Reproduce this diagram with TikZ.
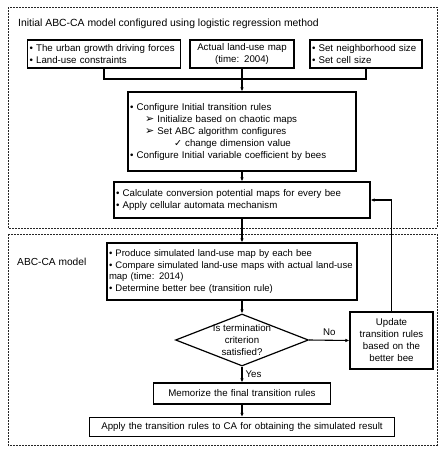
\documentclass[tikz,border=0pt]{standalone}
\usepackage{fontspec}
\setmainfont{Liberation Sans}
\newfontfamily\symfont{DejaVu Sans}
\usepackage{tikz}
\usetikzlibrary{arrows.meta,shapes.geometric}
\newcommand{\boxfont}{\fontsize{9.7}{12}\selectfont}
\newcommand{\ptr}{{\symfont\fontsize{11}{12}\selectfont ➢}}
\newcommand{\chk}{{\symfont\fontsize{9.5}{12}\selectfont ✓}}
\tikzset{
  box/.style={draw, line width=1.2pt, inner xsep=2pt, inner ysep=2pt, font=\boxfont},
  frame/.style={draw=black!85, line width=0.7pt, dash pattern=on 2pt off 1pt},
  link/.style={draw, line width=1.1pt},
  arrow/.style={link, -{Latex[length=4pt,width=3.5pt]}},
  lab/.style={font=\boxfont, inner sep=1pt},
}

\begin{document}
\begin{tikzpicture}[x=1pt,y=-1pt]
  \useasboundingbox (0,0) rectangle (446,450);

  % the two model frames
  \draw[frame] (8,7) rectangle (437,228);
  \draw[frame] (8,234) rectangle (437,445);
  \node[lab,anchor=west,font=\fontsize{10.4}{12}\selectfont] (title) at (17,24)
    {Initial ABC-CA model configured using logistic regression method};
  \node[lab,anchor=west,font=\fontsize{10.2}{12}\selectfont] (abcca) at (16,262) {ABC-CA model};

  % inputs
  \node[box, text width=149pt, minimum height=28pt, align=left] (forces) at (104,54)
    {• The urban growth driving forces\\• Land-use constraints};
  \node[box, text width=100pt, minimum height=28pt, align=center] (landuse) at (242,54)
    {Actual land-use map\\(time: 2004)};
  \node[box, text width=108pt, minimum height=28pt, align=left] (cell) at (366,54)
    {• Set neighborhood size\\• Set cell size};
  \coordinate (join) at (0,79);

  \node[box, text width=224pt, minimum height=79pt, align=left] (init) at (242,131.5)
    {• Configure Initial transition rules\\
     \hspace*{15pt}\ptr\ Initialize based on chaotic maps\\
     \hspace*{15pt}\ptr\ Set ABC algorithm configures\\
     \hspace*{44pt}\chk\ change dimension value\\
     • Configure Initial variable coefficient by bees};
  \node[box, text width=252pt, minimum height=36pt, align=left] (calc) at (242,200)
    {• Calculate conversion potential maps for every bee\\• Apply cellular automata mechanism};

  % ABC-CA loop
  \node[box, text width=246pt, minimum height=57pt, align=left,
        font=\fontsize{9.5}{11.6}\selectfont] (produce) at (232,271.5)
    {• Produce simulated land-use map by each bee\\
     • Compare simulated land-use maps with actual land-use\\
     map (time: 2014)\\
     • Determine better bee (transition rule)};
  \node[draw, diamond, line width=1.2pt, minimum width=133pt, minimum height=52pt, inner sep=0pt] (check) at (242,340) {};
  \node[lab, align=center] (checktext) at (check.center) {Is termination\\criterion\\satisfied?};
  \node[box, text width=79pt, minimum height=57pt, align=center] (update) at (391.5,340.5)
    {Update\\transition rules\\based on the\\better bee};
  \node[box, text width=173pt, minimum height=21pt, align=center] (memo) at (242,393.5)
    {Memorize the final transition rules};
  \node[box, text width=301pt, minimum height=19pt, align=center] (apply) at (242,427)
    {Apply the transition rules to CA for obtaining the simulated result};

  % connectors
  \draw[link] (forces.south) -- (forces.south |- join) -| (cell.south);
  \draw[arrow] (landuse.south) -- (init.north);
  \draw[arrow] (init.south) -- (calc.north);
  \draw[arrow] (calc.south) -- (calc.south |- produce.north);
  \draw[arrow] (calc.south |- produce.south) -- (check.north);
  \draw[arrow] (check.east) -- node[lab,above=3pt] {No} (update.west);
  \draw[arrow] (update.north) |- (calc.east);
  \draw[arrow] (check.south) -- node[lab,right=2pt] {Yes} (memo.north);
  \draw[arrow] (memo.south) -- (apply.north);
\end{tikzpicture}
\end{document}
